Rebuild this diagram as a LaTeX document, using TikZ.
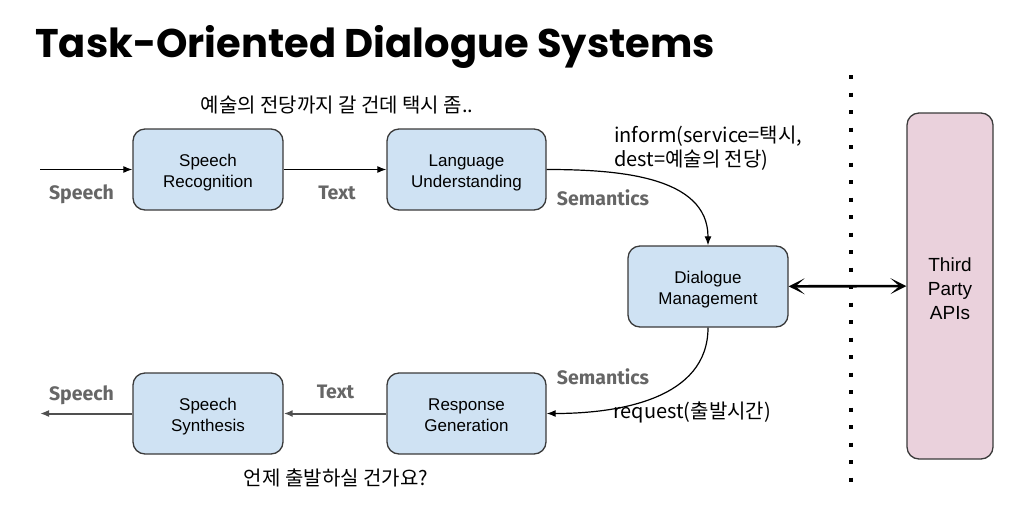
\documentclass[tikz,border=0pt]{standalone}
\usepackage{fontspec}
\setmainfont{Liberation Sans}
\newfontfamily\kofont{Noto Sans CJK KR}
\newfontfamily\titlefont{Poppins}
\newfontfamily\lblfont{Fira Sans}
\usetikzlibrary{arrows.meta}
\definecolor{boxblue}{HTML}{CFE2F3}
\definecolor{boxpink}{HTML}{EAD1DC}
\definecolor{boxline}{HTML}{3A3A3A}
\definecolor{lblgray}{HTML}{666666}
\definecolor{arrgray}{HTML}{505050}
\begin{document}
\begin{tikzpicture}[x=1pt,y=-1pt,
  proc/.style={draw=boxline, line width=1.3pt, fill=boxblue, rounded corners=12pt,
    minimum width=150pt, minimum height=81pt, align=center, inner sep=0pt,
    text height=36pt, text depth=0pt,
    font=\fontsize{17}{21}\selectfont},
  api/.style={draw=boxline, line width=1.3pt, fill=boxpink, rounded corners=12pt,
    minimum width=86pt, minimum height=346pt, align=center, inner sep=0pt,
    text height=66pt, text depth=0pt,
    font=\fontsize{19}{24}\selectfont},
  flowlbl/.style={text=lblgray, font=\lblfont\bfseries\fontsize{19.5}{23}\selectfont, inner sep=0pt},
  kolbl/.style={font=\kofont\fontsize{20}{24}\selectfont, inner sep=0pt},
  toparr/.style={draw=black, line width=1.2pt, -{Latex[length=9pt,width=7pt]}},
  botarr/.style={draw=arrgray, line width=2pt, -{Latex[length=9pt,width=7pt]}},
  apiarr/.style={draw=black, line width=2.6pt, {Stealth[length=16pt,width=16pt,inset=9pt]}-{Stealth[length=16pt,width=16pt,inset=9pt]}}
]
\useasboundingbox (0,0) rectangle (1024,509);
\node[anchor=base west, inner sep=0pt, font=\titlefont\bfseries\fontsize{40}{48}\selectfont] (title) at (35,57) {Task-Oriented Dialogue Systems};

\node[proc] (sr) at (208,169.5) {Speech\\Recognition};
\node[proc, minimum width=159pt] (lu) at (466.5,169.5) {Language\\Understanding};
\node[proc, minimum width=160pt] (dm) at (708,286.5) {Dialogue\\Management};
\node[proc] (ss) at (208,413.5) {Speech\\Synthesis};
\node[proc, minimum width=159pt] (rg) at (466.5,413.5) {Response\\Generation};
\node[api] (apis) at (950,286) {Third\\Party\\APIs};

\coordinate (in) at (40,169.5);
\coordinate (out) at (40,413.5);
\coordinate (dtop) at (851,75);
\coordinate (dbot) at (851,482);

\draw[toparr] (in) -- (sr);
\draw[toparr] (sr) -- (lu);
\draw[toparr] (lu.east) to[out=0,in=90] (dm.north);
\draw[toparr] (dm.south) to[out=-90,in=0] (rg.east);
\draw[botarr] (rg) -- (ss);
\draw[botarr] (ss) -- (out);
\draw[line width=4pt, dash pattern=on 4pt off 13.5pt] (dtop) -- (dbot);
\draw[apiarr] (dm) -- (apis);

\node[flowlbl] (l1) at (81.5,194) {Speech};
\node[flowlbl] (l2) at (337,193) {Text};
\node[flowlbl] (l3) at (603,198) {Semantics};
\node[flowlbl] (l4) at (81.5,395) {Speech};
\node[flowlbl] (l5) at (335.5,392) {Text};
\node[flowlbl] (l6) at (603,377) {Semantics};

\node[kolbl] (k1) at (337,105) {예술의 전당까지 갈 건데 택시 좀..};
\node[kolbl, anchor=west, align=left, font=\kofont\fontsize{20}{24}\selectfont] (k2) at (614,148) {inform(service=택시,\\dest=예술의 전당)};
\node[kolbl, anchor=west] (k3) at (613,412) {request(출발시간)};
\node[kolbl] (k4) at (336,478) {언제 출발하실 건가요?};
\end{tikzpicture}
\end{document}
